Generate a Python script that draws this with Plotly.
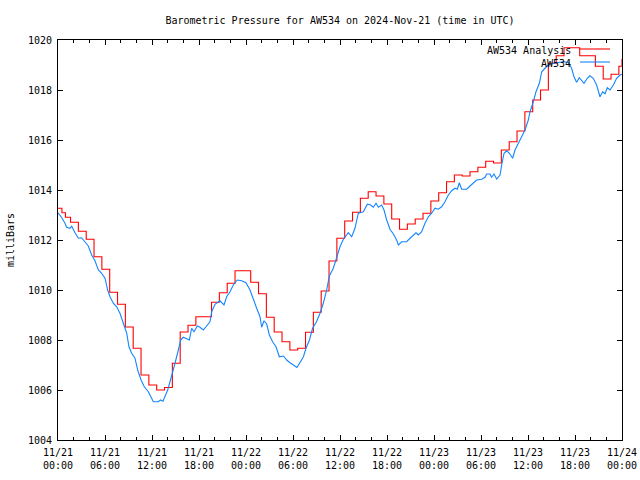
import pandas as pd
import plotly.graph_objects as go

BASE = pd.Timestamp("2024-11-21 00:00")

# Analysis series (hourly, stepped)
red_hours = [0, 0.5, 0.95, 1.6, 2.6, 3.6, 4.6, 5.6, 6.6, 7.6, 8.6, 9.6, 10.6, 11.6, 12.6, 13.6,
             14.6, 15.6, 16.6, 17.6, 18.6, 19.6, 20.6, 21.6, 22.6, 23.6, 24.6, 25.6, 26.6, 27.6,
             28.6, 29.6, 30.6, 31.6, 32.6, 33.6, 34.6, 35.6, 36.6, 37.6, 38.6, 39.6, 40.6, 41.6,
             42.6, 43.6, 44.6, 45.6, 46.6, 47.6, 48.6, 49.6, 50.6, 51.6, 52.6, 53.6, 54.6, 55.6,
             56.6, 57.6, 58.6, 59.6, 60.6, 61.6, 62.6, 63.6, 64.6, 65.6, 66.6, 67.6, 68.6, 69.6,
             70.6, 71.6, 72.0]
red_values = [1013.27, 1013.09, 1012.91, 1012.71, 1012.35, 1012.03, 1011.33, 1010.83, 1009.91,
              1009.43, 1008.52, 1007.67, 1006.60, 1006.20, 1006.00, 1006.10, 1007.07, 1008.32,
              1008.59, 1008.93, 1008.93, 1009.51, 1009.89, 1010.27, 1010.77, 1010.77, 1010.31,
              1009.85, 1008.91, 1008.32, 1007.93, 1007.60, 1007.67, 1008.31, 1009.11, 1009.96,
              1011.16, 1012.07, 1012.76, 1013.11, 1013.67, 1013.93, 1013.76, 1013.44, 1012.84,
              1012.43, 1012.64, 1012.84, 1013.07, 1013.56, 1013.89, 1014.33, 1014.60, 1014.56,
              1014.73, 1014.91, 1015.15, 1015.08, 1015.60, 1015.93, 1016.36, 1017.13, 1017.60,
              1018.00, 1019.07, 1019.37, 1019.69, 1019.69, 1019.37, 1019.37, 1018.95, 1018.44,
              1018.63, 1018.95, 1019.24]

# Observed series
blue_hours = [0.0, 0.45, 0.89, 1.1, 1.53, 1.75, 2.17, 2.6, 3.0, 3.45, 3.87, 4.3, 4.72, 5.15, 5.57,
              6.0, 6.34, 6.64, 7.06, 7.49, 7.91, 8.34, 8.77, 9.06, 9.4, 9.83, 10.17, 10.6, 11.02,
              11.53, 12.17, 12.8, 13.1, 13.4, 13.7, 14.0, 14.3, 14.64, 14.94, 15.36, 15.66, 16.0,
              16.43, 16.77, 17.06, 17.36, 17.79, 18.13, 18.55, 18.98, 19.4, 19.62, 20.04, 20.68,
              21.19, 21.53, 21.96, 22.38, 22.89, 23.45, 24.0, 24.51, 24.94, 25.36, 25.79, 26.0,
              26.3, 26.64, 26.98, 27.4, 27.83, 28.26, 28.77, 29.2, 29.62, 30.0, 30.26, 30.5, 30.9,
              31.33, 31.66, 32.1, 32.5, 33.0, 33.45, 33.87, 34.3, 34.64, 35.15, 35.57, 36.0,
              36.43, 37.06, 37.49, 37.91, 38.34, 38.98, 39.49, 39.92, 40.26, 40.6, 40.9, 41.32,
              41.62, 41.96, 42.38, 42.81, 43.23, 43.45, 43.87, 44.51, 44.94, 45.45, 45.7, 46.0,
              46.43, 46.85, 47.28, 47.7, 48.13, 48.55, 48.98, 49.4, 49.83, 50.26, 50.68, 50.98,
              51.23, 51.53, 52.17, 52.6, 53.0, 53.45, 54.09, 54.51, 54.72, 55.15, 55.36, 55.66,
              56.0, 56.43, 56.64, 56.94, 57.28, 57.62, 58.04, 58.34, 58.77, 59.2, 59.62, 60.04,
              60.26, 60.68, 61.02, 61.45, 61.75, 62.17, 62.6, 63.23, 63.87, 64.51, 65.15, 65.57,
              65.87, 66.2, 66.55, 66.85, 67.15, 67.57, 67.9, 68.33, 68.76, 69.19, 69.53, 69.83,
              70.13, 70.47, 70.9, 71.32, 71.75, 72.0]
blue_values = [1013.09, 1012.91, 1012.67, 1012.51, 1012.47, 1012.55, 1012.29, 1012.07, 1012.09,
               1011.93, 1011.76, 1011.40, 1011.17, 1010.80, 1010.67, 1010.47, 1010.00, 1009.73,
               1009.47, 1009.33, 1009.07, 1008.67, 1008.27, 1007.73, 1007.47, 1007.27, 1006.80,
               1006.40, 1006.13, 1005.93, 1005.53, 1005.53, 1005.60, 1005.55, 1005.75, 1006.00,
               1006.33, 1006.67, 1007.07, 1007.60, 1008.00, 1008.11, 1008.03, 1008.00, 1008.47,
               1008.33, 1008.56, 1008.51, 1008.40, 1008.56, 1008.73, 1009.13, 1009.43, 1009.57,
               1009.40, 1009.73, 1009.93, 1010.20, 1010.40, 1010.37, 1010.29, 1010.00, 1009.60,
               1009.27, 1008.93, 1008.51, 1008.77, 1008.64, 1008.20, 1007.93, 1007.73, 1007.33,
               1007.36, 1007.20, 1007.09, 1007.00, 1006.93, 1006.90, 1007.10, 1007.33, 1007.67,
               1008.00, 1008.47, 1008.73, 1009.07, 1009.47, 1010.00, 1010.56, 1010.87, 1011.33,
               1011.73, 1012.03, 1012.29, 1012.13, 1012.47, 1013.07, 1013.13, 1013.43, 1013.40,
               1013.31, 1013.47, 1013.31, 1013.40, 1013.20, 1012.80, 1012.43, 1012.24, 1012.00,
               1011.80, 1011.93, 1011.93, 1012.07, 1012.20, 1012.29, 1012.20, 1012.33, 1012.67,
               1012.93, 1013.07, 1013.27, 1013.23, 1013.33, 1013.53, 1013.80, 1013.97, 1014.07,
               1014.03, 1014.29, 1014.03, 1014.03, 1014.16, 1014.29, 1014.40, 1014.43, 1014.51,
               1014.64, 1014.64, 1014.51, 1014.64, 1014.44, 1014.60, 1015.00, 1015.47, 1015.57,
               1015.47, 1015.27, 1015.60, 1015.87, 1016.13, 1016.40, 1016.80, 1017.13, 1017.53,
               1017.93, 1018.27, 1018.73, 1018.87, 1019.00, 1019.07, 1019.10, 1019.13, 1019.10,
               1018.87, 1018.53, 1018.31, 1018.49, 1018.40, 1018.27, 1018.47, 1018.57, 1018.47,
               1018.20, 1017.73, 1017.93, 1017.85, 1018.09, 1018.00, 1018.20, 1018.47, 1018.60,
               1018.63]

tick_hours = [0, 6, 12, 18, 24, 30, 36, 42, 48, 54, 60, 66, 72]
tick_labels = ["11/21<br>00:00", "11/21<br>06:00", "11/21<br>12:00", "11/21<br>18:00",
               "11/22<br>00:00", "11/22<br>06:00", "11/22<br>12:00", "11/22<br>18:00",
               "11/23<br>00:00", "11/23<br>06:00", "11/23<br>12:00", "11/23<br>18:00",
               "11/24<br>00:00"]

RED = "#ff0000"
BLUE = "#1485ff"
FONT = "DejaVu Sans Mono"


def to_time(hours):
    return [BASE + pd.Timedelta(hours=h) for h in hours]


fig = go.Figure()
fig.add_trace(go.Scatter(x=to_time(red_hours), y=red_values, mode="lines", line_shape="hv",
                         name="AW534 Analysis", line=dict(color=RED, width=1.1)))
fig.add_trace(go.Scatter(x=to_time(blue_hours), y=blue_values, mode="lines",
                         name="AW534", line=dict(color=BLUE, width=1.1)))

axis_common = dict(showline=True, linecolor="black", linewidth=1, mirror="allticks",
                   ticks="inside", tickcolor="black", showgrid=False, zeroline=False,
                   ticklabelstandoff=3, automargin=False,
                   tickfont=dict(family=FONT, size=10, color="black"))

fig.update_layout(
    width=640, height=480,
    margin=dict(l=58, r=18, t=40, b=40),
    paper_bgcolor="white", plot_bgcolor="white",
    showlegend=False,
    title=dict(text="Barometric Pressure for AW534 on 2024-Nov-21 (time in UTC)",
               x=0.5, xref="paper", xanchor="center", y=1 - 20 / 480, yanchor="middle",
               font=dict(family=FONT, size=10, color="black")),
    xaxis=dict(type="date", range=[to_time([0])[0], to_time([72])[0]],
               tickmode="array", tickvals=to_time(tick_hours), ticktext=tick_labels,
               ticklen=5,
               minor=dict(dtick=2 * 3600 * 1000, tick0=BASE, ticks="inside", ticklen=3,
                          tickcolor="black", showgrid=False),
               **axis_common),
    yaxis=dict(range=[1004, 1020], dtick=2, tick0=1004, ticklen=5,
               title=dict(text="milliBars", standoff=11,
                          font=dict(family=FONT, size=10, color="black")),
               **axis_common),
)

# gnuplot-style key: text right-aligned, line sample to its right
fig.add_annotation(text="AW534 Analysis", xref="paper", yref="paper", x=0.913, y=0.975,
                   xanchor="right", yanchor="middle", showarrow=False,
                   font=dict(family=FONT, size=10, color="black"))
fig.add_annotation(text="AW534", xref="paper", yref="paper", x=0.913, y=0.9425,
                   xanchor="right", yanchor="middle", showarrow=False,
                   font=dict(family=FONT, size=10, color="black"))
fig.add_shape(type="line", xref="paper", yref="paper", x0=0.9255, x1=0.9787, y0=0.9775, y1=0.9775,
              line=dict(color=RED, width=1.1))
fig.add_shape(type="line", xref="paper", yref="paper", x0=0.9255, x1=0.9787, y0=0.945, y1=0.945,
              line=dict(color=BLUE, width=1.1))

# remove the browser's default 8px page margin so the 640x480 figure fills the window
fig.write_html("out.html",
               config={"displayModeBar": False, "staticPlot": True},
               post_script="document.body.style.margin='0';document.body.style.overflow='hidden';")
